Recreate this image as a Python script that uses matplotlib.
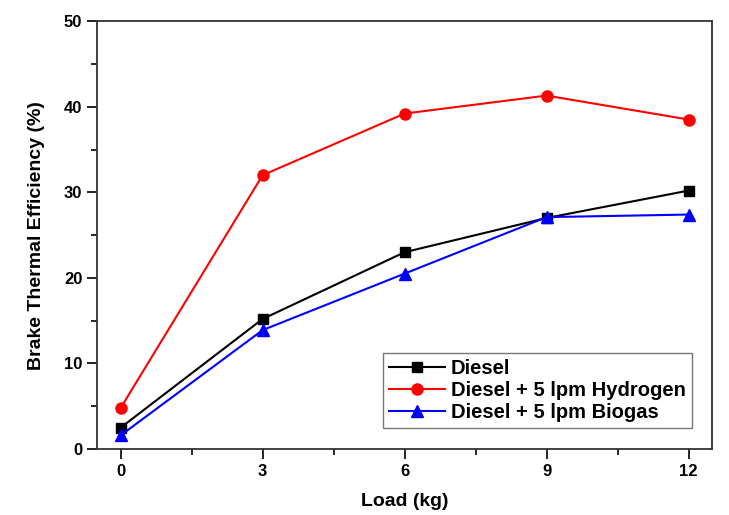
import matplotlib
matplotlib.use("Agg")
import matplotlib.pyplot as plt
from matplotlib.ticker import MultipleLocator

plt.rcParams['font.family'] = ['Liberation Sans', 'DejaVu Sans']
plt.rcParams['font.weight'] = 'bold'

load = [0, 3, 6, 9, 12]
diesel = [2.5, 15.2, 23.0, 27.0, 30.2]
hydrogen = [4.8, 32.0, 39.2, 41.3, 38.5]
biogas = [1.6, 13.9, 20.5, 27.1, 27.4]

fig = plt.figure(figsize=(7.29, 5.15), dpi=100)
ax = fig.add_axes([0.133, 0.128, 0.844, 0.831])

ax.plot(load, diesel, color='black', marker='s', markersize=7, lw=1.5, label='Diesel')
ax.plot(load, hydrogen, color='red', marker='o', markersize=8, lw=1.5, label='Diesel + 5 lpm Hydrogen')
ax.plot(load, biogas, color='blue', marker='^', markersize=8, lw=1.5, label='Diesel + 5 lpm Biogas')

ax.set_xlim(-0.5, 12.5)
ax.set_ylim(0, 50)
ax.set_xticks([0, 3, 6, 9, 12])
ax.set_yticks([0, 10, 20, 30, 40, 50])
ax.xaxis.set_minor_locator(MultipleLocator(1.5))
ax.yaxis.set_minor_locator(MultipleLocator(5))
ax.tick_params(which='major', direction='out', length=7, width=1.2, labelsize=12)
ax.tick_params(which='minor', direction='out', length=4, width=1.2)
for lab in ax.get_xticklabels() + ax.get_yticklabels():
    lab.set_fontweight('bold')
for s in ax.spines.values():
    s.set_linewidth(1.3)
    s.set_color('#333333')

ax.set_xlabel('Load (kg)', fontsize=14, fontweight='bold', labelpad=10)
ax.set_ylabel('Brake Thermal Efficiency (%)', fontsize=14, fontweight='bold', labelpad=14)

leg = ax.legend(loc='lower right', bbox_to_anchor=(0.967, 0.05), fontsize=14.5,
                frameon=True, fancybox=False, edgecolor='#555555',
                handlelength=2.8, borderpad=0.3, labelspacing=0.15, handletextpad=0.3,
                borderaxespad=0)
leg.get_frame().set_linewidth(1.0)

fig.savefig('out.png', dpi=100)
